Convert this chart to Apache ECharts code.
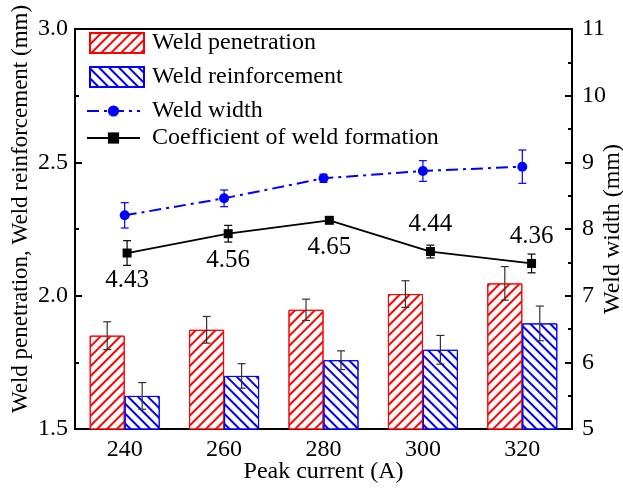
<!DOCTYPE html>
<html>
<head>
<meta charset="utf-8">
<script src="https://cdn.jsdelivr.net/npm/echarts@6/dist/echarts.min.js"></script>
<style>
  html, body { margin: 0; padding: 0; background: #fff; }
  #chart { width: 623px; height: 488px; }
</style>
</head>
<body>
<div id="chart"></div>
<script>
// peak current (A)
const currents = ['240', '260', '280', '300', '320'];
// left axis, mm
const penetration = [1.85, 1.872, 1.947, 2.006, 2.046];
const penetrationErr = [0.052, 0.05, 0.04, 0.05, 0.063];
const reinforcement = [1.624, 1.699, 1.758, 1.797, 1.896];
const reinforcementErr = [0.05, 0.046, 0.035, 0.054, 0.065];
// right axis, mm
const weldWidth = [8.205, 8.46, 8.76, 8.87, 8.935];
const weldWidthErr = [0.19, 0.125, 0.06, 0.155, 0.25];
// coefficient of weld formation (drawn on its own hidden scale)
const coefficient = [4.43, 4.56, 4.65, 4.44, 4.36];
const coefficientErr = [0.083, 0.056, 0.02, 0.043, 0.063];
// tick labels
const leftTicks = [1.5, 2.0, 2.5, 3.0];
const rightTicks = [5, 6, 7, 8, 9, 10, 11];

const FONT = 'Liberation Serif, Times New Roman, serif';
const GAP = 0.296; // barCategoryGap
const labelSide = ['bottom', 'bottom', 'bottom', 'top', 'top'];

function errorBar(side, color) {
  return function (params, api) {
    const x = api.value(0), v = api.value(1), e = api.value(2);
    const hi = api.coord([x, v + e]);
    const lo = api.coord([x, v - e]);
    const dx = side ? side * api.size([1, 0])[0] * (1 - GAP) / 4 : 0;
    const cx = hi[0] + dx;
    const cap = 4;
    const style = { stroke: color, lineWidth: 1.2 };
    return {
      type: 'group',
      children: [
        { type: 'line', shape: { x1: cx, y1: hi[1], x2: cx, y2: lo[1] }, style },
        { type: 'line', shape: { x1: cx - cap, y1: hi[1], x2: cx + cap, y2: hi[1] }, style },
        { type: 'line', shape: { x1: cx - cap, y1: lo[1], x2: cx + cap, y2: lo[1] }, style }
      ]
    };
  };
}

function hatch(color, rotation) {
  return {
    symbol: 'rect',
    symbolSize: 1,
    color: color,
    dashArrayX: [1, 0],
    dashArrayY: [2, 5],
    rotation: rotation
  };
}

const chart = echarts.init(document.getElementById('chart'));
chart.setOption({
  animation: false,
  backgroundColor: '#fff',
  textStyle: { fontFamily: FONT },
  grid: {
    left: 75, right: 51, top: 29, bottom: 59,
    outerBoundsMode: 'none',
    show: true, borderColor: '#000', borderWidth: 2
  },
  legend: [
    {
      data: ['Weld penetration', 'Weld reinforcement'],
      orient: 'vertical', left: 89, top: 31, padding: 0,
      icon: 'rect', itemWidth: 54, itemHeight: 20, itemGap: 10,
      textStyle: { fontFamily: FONT, fontSize: 24, color: '#000', padding: [0, 0, 0, 3] }
    },
    {
      data: ['Weld width', 'Coefficient of weld formation'],
      orient: 'vertical', left: 86, top: 99, padding: 0,
      itemWidth: 53, itemHeight: 14, itemGap: 3,
      textStyle: { fontFamily: FONT, fontSize: 24, color: '#000', padding: [0, 0, 0, 7] }
    }
  ],
  xAxis: [
    {
      type: 'category', data: currents, position: 'bottom',
      name: 'Peak current (A)', nameLocation: 'middle', nameGap: 31, nameMoveOverlap: false,
      nameTextStyle: { fontFamily: FONT, fontSize: 24, color: '#000' },
      axisLine: { lineStyle: { color: '#000', width: 2 } },
      axisTick: { inside: true, alignWithLabel: true, length: 5, lineStyle: { width: 2 } },
      axisLabel: { fontFamily: FONT, fontSize: 24, color: '#000', margin: 9 },
      splitLine: { show: false }
    },
    {
      type: 'value', show: false,
      min: 229.7, max: 328, gridIndex: 0
    }
  ],
  yAxis: [
    {
      type: 'value', position: 'left',
      min: leftTicks[0], max: leftTicks[leftTicks.length - 1], interval: leftTicks[1] - leftTicks[0],
      name: 'Weld penetration, Weld reinforcement (mm)', nameLocation: 'middle', nameGap: 43, nameMoveOverlap: false,
      nameTextStyle: { fontFamily: FONT, fontSize: 23, color: '#000', padding: [0, 0, 0, 40] },
      axisLine: { show: true, lineStyle: { color: '#000', width: 2 } },
      axisTick: { inside: true, length: 7, lineStyle: { width: 2 } },
      minorTick: { show: true, splitNumber: 2, length: 4, lineStyle: { color: '#000', width: 2 } },
      axisLabel: { fontFamily: FONT, fontSize: 24, color: '#000', margin: 7, formatter: v => v.toFixed(1) },
      splitLine: { show: false }
    },
    {
      type: 'value', position: 'right',
      min: rightTicks[0], max: rightTicks[rightTicks.length - 1], interval: rightTicks[1] - rightTicks[0],
      name: 'Weld width (mm)', nameLocation: 'middle', nameGap: 29, nameRotate: 90, nameMoveOverlap: false,
      nameTextStyle: { fontFamily: FONT, fontSize: 24, color: '#000' },
      axisLine: { show: true, lineStyle: { color: '#000', width: 2 } },
      axisTick: { inside: true, length: 7, lineStyle: { width: 2 } },
      minorTick: { show: true, splitNumber: 2, length: 4, lineStyle: { color: '#000', width: 2 } },
      axisLabel: { fontFamily: FONT, fontSize: 24, color: '#000', margin: 10 },
      splitLine: { show: false }
    },
    {
      type: 'value', show: false,
      min: 3.2466, max: 5.9366
    }
  ],
  series: [
    {
      name: 'Weld penetration', type: 'bar', data: penetration,
      barGap: '0%', barCategoryGap: (GAP * 100) + '%',
      itemStyle: { color: '#fff', borderColor: '#ff0000', borderWidth: 1, decal: hatch('#ff0000', -Math.PI / 4) }
    },
    {
      name: 'Weld reinforcement', type: 'bar', data: reinforcement,
      barGap: '0%', barCategoryGap: (GAP * 100) + '%',
      itemStyle: { color: '#fff', borderColor: '#0000ff', borderWidth: 1, decal: hatch('#0000ff', Math.PI / 4) }
    },
    {
      type: 'custom', z: 3,
      renderItem: errorBar(-1, '#333'),
      encode: { x: 0, y: 1 },
      data: currents.map((c, i) => [i, penetration[i], penetrationErr[i]])
    },
    {
      type: 'custom', z: 3,
      renderItem: errorBar(1, '#333'),
      encode: { x: 0, y: 1 },
      data: currents.map((c, i) => [i, reinforcement[i], reinforcementErr[i]])
    },
    {
      name: 'Weld width', type: 'line', yAxisIndex: 1, data: weldWidth,
      symbol: 'circle', symbolSize: 10, z: 4,
      itemStyle: { color: '#0000ff' },
      lineStyle: { color: '#0000ff', width: 2, type: [12, 5, 3, 5] }
    },
    {
      type: 'custom', yAxisIndex: 1, z: 4,
      renderItem: errorBar(0, '#0000ff'),
      encode: { x: 0, y: 1 },
      data: currents.map((c, i) => [i, weldWidth[i], weldWidthErr[i]])
    },
    {
      name: 'Coefficient of weld formation', type: 'line', xAxisIndex: 1, yAxisIndex: 2,
      symbol: 'rect', symbolSize: 9, z: 4,
      itemStyle: { color: '#000' },
      lineStyle: { color: '#000', width: 1.8 },
      data: currents.map((c, i) => ({
        value: [Number(c), coefficient[i]],
        label: { position: labelSide[i] }
      })),
      label: {
        show: true, distance: 10, fontFamily: FONT, fontSize: 25, color: '#000',
        formatter: p => p.value[1].toFixed(2)
      }
    },
    {
      type: 'custom', xAxisIndex: 1, yAxisIndex: 2, z: 4,
      renderItem: errorBar(0, '#000'),
      encode: { x: 0, y: 1 },
      data: currents.map((c, i) => [Number(c), coefficient[i], coefficientErr[i]])
    }
  ]
});
</script>
</body>
</html>
